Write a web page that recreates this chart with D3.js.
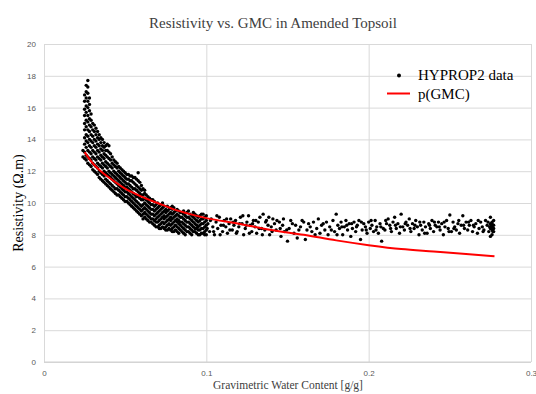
<!DOCTYPE html>
<html>
<head>
<meta charset="utf-8">
<script src="https://cdn.jsdelivr.net/npm/d3@7"></script>
<style>
  body { margin: 0; background: #fff; }
  svg { display: block; }
</style>
</head>
<body>
<div id="chart"></div>
<script>
const hypropColumns = [
  [0.024, [12.9, 13.3]],
  [0.025, [12.8, 13.2, 13.7, 14.1, 14.6, 15.0, 15.5, 15.9, 16.4, 16.8]],
  [0.026, [12.7, 13.0, 13.5, 13.9, 14.3, 14.8, 15.2, 15.7, 16.1, 16.6, 17.0, 17.4]],
  [0.027, [12.5, 12.9, 13.3, 13.8, 14.2, 14.6, 15.1, 15.5, 16.0, 16.4, 16.9, 17.3, 17.7]],
  [0.028, [12.4, 12.8, 13.2, 13.6, 14.0, 14.5, 14.9, 15.3, 15.8, 16.2, 16.6]],
  [0.029, [12.3, 12.7, 13.1, 13.5, 13.9, 14.3, 14.8, 15.2, 15.6]],
  [0.030, [12.1, 12.5, 12.9, 13.3, 13.8, 14.2, 14.6, 15.0]],
  [0.031, [12.0, 12.4, 12.8, 13.2, 13.6, 14.0, 14.5, 14.9]],
  [0.032, [11.9, 12.3, 12.7, 13.1, 13.5, 13.9, 14.3, 14.7]],
  [0.033, [11.8, 12.2, 12.5, 12.9, 13.3, 13.7, 14.1, 14.5]],
  [0.034, [11.6, 12.0, 12.4, 12.8, 13.2, 13.6, 14.0, 14.3]],
  [0.035, [11.5, 11.9, 12.3, 12.7, 13.0, 13.4, 13.8, 14.1]],
  [0.036, [11.4, 11.8, 12.2, 12.5, 12.9, 13.3, 13.6, 14.0]],
  [0.037, [11.3, 11.7, 12.0, 12.4, 12.8, 13.1, 13.5, 13.8]],
  [0.038, [11.2, 11.5, 11.9, 12.3, 12.6, 13.0, 13.3, 13.6]],
  [0.039, [11.1, 11.4, 11.8, 12.2, 12.5, 12.9, 13.3, 13.7]],
  [0.040, [11.0, 11.3, 11.7, 12.0, 12.4, 12.8, 13.2, 13.6]],
  [0.041, [10.9, 11.2, 11.6, 11.9, 12.3, 12.7, 13.1]],
  [0.042, [10.8, 11.1, 11.5, 11.8, 12.2, 12.5, 12.9]],
  [0.043, [10.7, 11.0, 11.4, 11.7, 12.0, 12.4, 12.7]],
  [0.044, [10.6, 10.9, 11.3, 11.6, 11.9, 12.3, 12.6]],
  [0.045, [10.5, 10.9, 11.2, 11.5, 11.8, 12.2, 12.5]],
  [0.046, [10.5, 10.8, 11.1, 11.4, 11.7, 12.0, 12.3]],
  [0.047, [10.4, 10.7, 11.0, 11.3, 11.6, 11.9, 12.2]],
  [0.048, [10.3, 10.6, 10.9, 11.2, 11.5, 11.8, 12.1]],
  [0.049, [10.2, 10.5, 10.8, 11.1, 11.4, 11.7, 12.0]],
  [0.050, [10.1, 10.4, 10.7, 11.0, 11.3, 11.6, 11.9]],
  [0.051, [10.1, 10.4, 10.7, 11.0, 11.2, 11.5, 11.8]],
  [0.052, [10.0, 10.3, 10.6, 10.9, 11.2, 11.5, 11.8]],
  [0.053, [9.9, 10.2, 10.5, 10.8, 11.1, 11.4, 11.7]],
  [0.054, [9.8, 10.1, 10.4, 10.7, 11.0, 11.4, 11.7]],
  [0.055, [9.7, 10.0, 10.3, 10.6, 10.9, 11.3, 11.6]],
  [0.056, [9.6, 9.9, 10.2, 10.5, 10.9, 11.2, 11.6]],
  [0.057, [9.5, 9.8, 10.1, 10.4, 10.8, 11.1, 11.5]],
  [0.058, [9.4, 9.7, 10.0, 10.4, 10.7, 11.0, 11.4, 11.9]],
  [0.059, [9.3, 9.6, 9.9, 10.3, 10.6, 10.9, 11.3]],
  [0.060, [9.2, 9.5, 9.8, 10.2, 10.5, 10.8, 11.1]],
  [0.061, [9.0, 9.3, 9.6, 9.9, 10.2, 10.5, 10.9]],
  [0.062, [9.1, 9.4, 9.7, 10.0, 10.3, 10.6, 10.8]],
  [0.063, [9.0, 9.3, 9.6, 9.9, 10.2, 10.5]],
  [0.064, [8.9, 9.2, 9.5, 9.8, 10.1, 10.4]],
  [0.065, [8.8, 9.1, 9.4, 9.7, 10.0, 10.3]],
  [0.066, [8.8, 9.0, 9.3, 9.6, 9.9, 10.2]],
  [0.067, [8.7, 9.0, 9.3, 9.6, 9.9, 10.2]],
  [0.068, [8.6, 8.9, 9.2, 9.5, 9.8, 10.1]],
  [0.069, [8.5, 8.8, 9.0, 9.3, 9.6, 9.9]],
  [0.070, [8.5, 8.8, 9.1, 9.4, 9.7, 10.0]],
  [0.071, [8.4, 8.6, 8.9, 9.2, 9.5, 9.8]],
  [0.072, [8.4, 8.7, 9.0, 9.3, 9.6, 9.9]],
  [0.073, [8.5, 8.8, 9.1, 9.4, 9.7, 10.0]],
  [0.074, [8.4, 8.7, 9.0, 9.2, 9.5, 9.8]],
  [0.075, [8.3, 8.5, 8.8, 9.1, 9.4, 9.6]],
  [0.076, [8.3, 8.6, 8.9, 9.2, 9.5, 9.8]],
  [0.077, [8.4, 8.7, 9.0, 9.3, 9.6]],
  [0.078, [8.3, 8.6, 8.9, 9.1, 9.4, 9.7]],
  [0.079, [8.2, 8.4, 8.7, 9.0, 9.3, 9.6, 9.8]],
  [0.080, [8.2, 8.5, 8.8, 9.1, 9.4, 9.7]],
  [0.081, [8.3, 8.6, 8.9, 9.2, 9.5]],
  [0.082, [8.2, 8.5, 8.8, 9.0, 9.3, 9.6]],
  [0.083, [8.1, 8.4, 8.7, 8.9, 9.2, 9.5]],
  [0.084, [8.3, 8.6, 8.8, 9.1, 9.4]],
  [0.085, [8.2, 8.5, 8.8, 9.1, 9.4]],
  [0.086, [8.1, 8.4, 8.7, 9.0, 9.3, 9.5]],
  [0.087, [8.0, 8.3, 8.6, 8.9, 9.2]],
  [0.088, [8.2, 8.5, 8.8, 9.1, 9.4]],
  [0.089, [8.2, 8.5, 8.8, 9.1, 9.5]],
  [0.090, [8.1, 8.4, 8.7, 9.0, 9.3]],
  [0.091, [8.0, 8.3, 8.6, 8.9, 9.2]],
  [0.092, [8.2, 8.5, 8.8, 9.1, 9.4]],
  [0.093, [8.2, 8.4, 8.7, 9.0, 9.3]],
  [0.094, [8.1, 8.4, 8.6, 8.9, 9.2]],
  [0.095, [8.0, 8.3, 8.5, 8.8, 9.1]],
  [0.096, [8.0, 8.3, 8.6, 8.9, 9.2]],
  [0.097, [8.1, 8.4, 8.7, 9.0, 9.3]],
  [0.098, [8.1, 8.4, 8.7, 9.0, 9.3]],
  [0.099, [8.0, 8.2, 8.5, 8.8, 9.1]],
  [0.100, [8.0, 8.3, 8.6, 8.9, 9.2]]
];

// sparse tail of the cloud, single points [GMC, resistivity]
const hypropTail = [
  [0.101, 8.7], [0.102, 8.2], [0.103, 9.0], [0.104, 8.5], [0.105, 8.0], [0.106, 8.8],
  [0.107, 8.4], [0.108, 9.1], [0.109, 8.6], [0.110, 8.2], [0.111, 8.9], [0.112, 8.5],
  [0.113, 8.1], [0.114, 8.7], [0.115, 9.0], [0.116, 8.3], [0.117, 8.6], [0.118, 8.9],
  [0.119, 8.2], [0.120, 8.5], [0.121, 9.1], [0.122, 8.7], [0.123, 8.0], [0.124, 8.4],
  [0.125, 8.8], [0.126, 9.2], [0.127, 8.6], [0.128, 8.2], [0.129, 8.9], [0.130, 8.5],
  [0.131, 8.1], [0.132, 8.8], [0.133, 9.1], [0.134, 8.4], [0.135, 9.3], [0.136, 8.3],
  [0.137, 8.9], [0.138, 8.6], [0.139, 8.0], [0.140, 8.5], [0.141, 9.0], [0.142, 8.7],
  [0.143, 8.3], [0.145, 8.8], [0.146, 7.9], [0.147, 8.6], [0.148, 8.2], [0.150, 7.6],
  [0.151, 8.4], [0.152, 8.9], [0.154, 8.1], [0.155, 8.6], [0.156, 7.8], [0.158, 8.5],
  [0.159, 8.9], [0.161, 7.7], [0.162, 8.3], [0.163, 8.7], [0.165, 8.2], [0.166, 8.8],
  [0.168, 8.4], [0.169, 9.0], [0.170, 8.1], [0.171, 8.6], [0.173, 8.3], [0.174, 8.8],
  [0.175, 8.0], [0.176, 8.5], [0.178, 8.9], [0.179, 8.2], [0.180, 9.3], [0.181, 8.6],
  [0.182, 8.4], [0.183, 8.8], [0.184, 8.0], [0.185, 8.5], [0.186, 8.9], [0.187, 8.3],
  [0.188, 8.7], [0.189, 7.9], [0.190, 8.4], [0.191, 8.8], [0.192, 8.2], [0.193, 8.6],
  [0.194, 8.9], [0.195, 7.7], [0.196, 8.3], [0.197, 8.7], [0.198, 8.5], [0.199, 8.1],
  [0.200, 8.8], [0.201, 8.4], [0.202, 8.6], [0.203, 8.2], [0.204, 8.9], [0.205, 8.5],
  [0.206, 8.1], [0.207, 8.7], [0.208, 7.6], [0.209, 8.4], [0.210, 8.3], [0.211, 8.7],
  [0.212, 9.0], [0.213, 8.6], [0.214, 8.2], [0.215, 8.8], [0.216, 9.1], [0.217, 8.4],
  [0.218, 8.7], [0.219, 8.1], [0.220, 9.3], [0.221, 8.5], [0.222, 8.3], [0.223, 8.8],
  [0.224, 8.6], [0.225, 9.0], [0.226, 8.2], [0.227, 8.7], [0.228, 8.4], [0.229, 8.9],
  [0.230, 8.5], [0.231, 8.0], [0.232, 8.6], [0.233, 8.3], [0.234, 8.8], [0.235, 8.5],
  [0.236, 8.1], [0.237, 8.7], [0.238, 8.4], [0.239, 8.9], [0.240, 8.2], [0.241, 8.6],
  [0.242, 8.5], [0.243, 8.8], [0.244, 8.3], [0.245, 8.7], [0.246, 8.0], [0.247, 8.5],
  [0.248, 8.9], [0.249, 8.4], [0.250, 9.25], [0.251, 8.2], [0.252, 8.8], [0.253, 8.5],
  [0.254, 8.3], [0.255, 8.7], [0.256, 8.1], [0.257, 8.6], [0.258, 9.2], [0.259, 8.4],
  [0.260, 8.8], [0.261, 8.3], [0.262, 8.6], [0.263, 8.9], [0.264, 8.2], [0.265, 8.5],
  [0.266, 8.7], [0.267, 8.1], [0.268, 8.4], [0.269, 8.8], [0.270, 8.5], [0.271, 8.3],
  [0.272, 8.9], [0.273, 8.6], [0.274, 8.2], [0.275, 8.7], [0.275, 8.4], [0.275, 9.1],
  [0.276, 8.5], [0.276, 8.0], [0.276, 8.8], [0.276, 8.3], [0.277, 8.6], [0.277, 8.2],
  [0.277, 8.9], [0.275, 7.9],
  [0.1005, 8.4], [0.1025, 8.9], [0.1045, 8.2], [0.1065, 9.2], [0.1085, 8.0], [0.1105, 8.6],
  [0.1125, 9.0], [0.1145, 8.3], [0.1165, 8.8], [0.1185, 8.1], [0.1205, 8.7], [0.1225, 9.2],
  [0.1245, 8.6], [0.1265, 8.1], [0.1285, 8.7], [0.1305, 8.9], [0.1325, 8.4], [0.1345, 8.0],
  [0.1365, 8.8], [0.1385, 9.1], [0.1405, 8.2], [0.1435, 8.9], [0.1455, 8.4], [0.1475, 9.0],
  [0.1495, 8.3], [0.153, 8.7], [0.157, 8.3], [0.160, 8.8], [0.164, 8.5], [0.167, 8.0],
  [0.172, 8.7], [0.177, 8.3], [0.1805, 8.0], [0.1835, 8.5], [0.1865, 8.6], [0.1895, 8.7],
  [0.1925, 8.5], [0.1955, 8.8], [0.1985, 8.3], [0.2015, 8.9], [0.2045, 8.3], [0.2075, 8.5],
  [0.2105, 8.9], [0.2135, 8.4], [0.2165, 8.6], [0.2195, 8.5], [0.2225, 8.7], [0.2255, 8.4],
  [0.2285, 8.6], [0.2315, 8.8], [0.2345, 8.1], [0.2375, 8.6], [0.2405, 8.8], [0.2435, 8.5],
  [0.2465, 8.8], [0.2495, 8.2], [0.2525, 8.4], [0.2555, 8.9], [0.2585, 8.6], [0.2615, 8.8],
  [0.2645, 8.6], [0.2675, 8.9], [0.2705, 8.2], [0.2735, 8.8], [0.2755, 8.6], [0.2765, 8.2],
  [0.2745, 8.5], [0.2770, 8.4], [0.2760, 8.7]
];

// fitted p(GMC) curve
const fitGmc = [0.025, 0.03, 0.035, 0.04, 0.05, 0.06, 0.07, 0.08, 0.09, 0.1, 0.12, 0.14, 0.16, 0.18, 0.2, 0.22, 0.24, 0.26, 0.2775];
const fitRes = [13.2, 12.5, 12.0, 11.6, 10.9, 10.4, 10.0, 9.6, 9.3, 9.05, 8.7, 8.3, 8.0, 7.65, 7.35, 7.1, 6.95, 6.8, 6.65];

const xTicks = [0, 0.1, 0.2, 0.3];
const yTicks = [0, 2, 4, 6, 8, 10, 12, 14, 16, 18, 20];

const width = 536, height = 394;
const margin = { top: 44, right: 5, bottom: 32, left: 44 };

const svg = d3.select('#chart').append('svg')
  .attr('width', width)
  .attr('height', height);

const x = d3.scaleLinear().domain([0, 0.3]).range([margin.left, width - margin.right]);
const y = d3.scaleLinear().domain([0, 20]).range([height - margin.bottom, margin.top]);

// gridlines + tick labels
const yAxis = svg.append('g')
  .attr('transform', 'translate(' + margin.left + ',0)')
  .call(d3.axisLeft(y).tickValues(yTicks).tickSize(-(x.range()[1] - margin.left)).tickPadding(8));
const xAxis = svg.append('g')
  .attr('transform', 'translate(0,' + y(0) + ')')
  .call(d3.axisBottom(x).tickValues(xTicks)
    .tickSize(-(y(0) - margin.top)).tickPadding(8)
    .tickFormat((d) => String(+d.toFixed(1))));

[xAxis, yAxis].forEach((g) => {
  g.select('.domain').remove();
  g.selectAll('.tick line').attr('stroke', '#d9d9d9').attr('stroke-width', 1);
  g.selectAll('.tick text')
    .attr('fill', '#595959')
    .style('font-family', 'Liberation Sans, Arial, sans-serif')
    .style('font-size', '8px');
});
// bottom axis line a touch darker
svg.append('line')
  .attr('x1', x(0)).attr('x2', x(0.3))
  .attr('y1', y(0)).attr('y2', y(0))
  .attr('stroke', '#d0d0d0');

// data
const points = hypropColumns.flatMap(([gx, ys]) => ys.map((v) => [gx, v])).concat(hypropTail);
svg.append('g')
  .selectAll('circle')
  .data(points)
  .join('circle')
  .attr('cx', (d) => x(d[0]))
  .attr('cy', (d) => y(d[1]))
  .attr('r', 1.7)
  .attr('fill', '#000');

// fit curve on top of the dots
const fitLine = d3.line()
  .x((d, i) => x(fitGmc[i]))
  .y((d) => y(d))
  .curve(d3.curveMonotoneX);
svg.append('path')
  .attr('d', fitLine(fitRes))
  .attr('fill', 'none')
  .attr('stroke', '#ff0000')
  .attr('stroke-width', 2);

// titles
const serif = 'Liberation Serif, Times New Roman, serif';
svg.append('text')
  .attr('x', 273).attr('y', 28)
  .attr('text-anchor', 'middle')
  .style('font-family', serif).style('font-size', '15px').attr('fill', '#404040')
  .text('Resistivity  vs.  GMC  in  Amended  Topsoil');
svg.append('text')
  .attr('x', 288).attr('y', 389)
  .attr('text-anchor', 'middle')
  .style('font-family', serif).style('font-size', '11.5px').attr('fill', '#404040')
  .text('Gravimetric  Water Content [g/g]');
svg.append('text')
  .attr('transform', 'translate(23,' + 203 + ') rotate(-90)')
  .attr('text-anchor', 'middle')
  .style('font-family', serif).style('font-size', '14px').attr('fill', '#000')
  .text('Resistivity (Ω.m)');

// legend
const legend = svg.append('g').style('font-family', serif).style('font-size', '15px');
legend.append('circle').attr('cx', 399).attr('cy', 75.5).attr('r', 2).attr('fill', '#000');
legend.append('text').attr('x', 418).attr('y', 80).attr('fill', '#000').text('HYPROP2 data');
legend.append('line')
  .attr('x1', 387).attr('x2', 410).attr('y1', 93.5).attr('y2', 93.5)
  .attr('stroke', '#ff0000').attr('stroke-width', 2);
legend.append('text').attr('x', 418).attr('y', 98.5).attr('fill', '#000').text('p(GMC)');
</script>
</body>
</html>
